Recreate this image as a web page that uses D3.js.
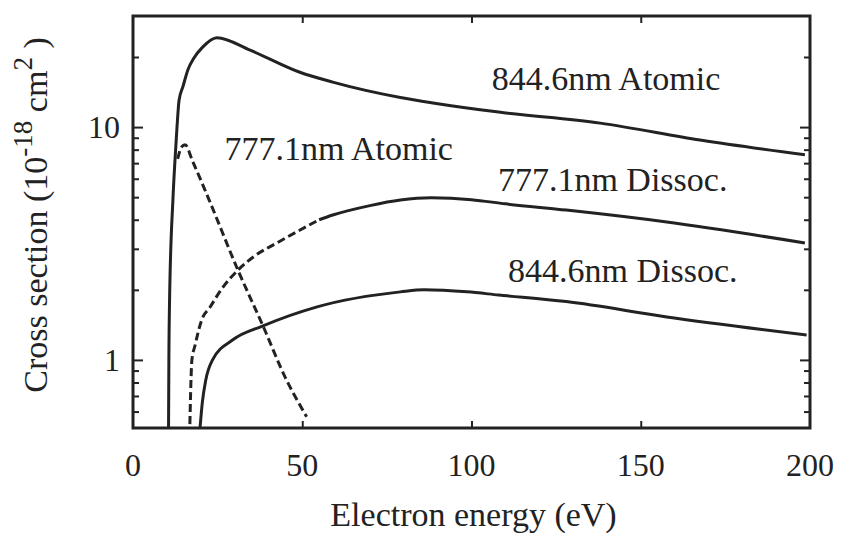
<!DOCTYPE html>
<html>
<head>
<meta charset="utf-8">
<script src="https://cdn.jsdelivr.net/npm/d3@7"></script>
<style>
  @font-face { font-family: "ChartSerif"; src: local("Liberation Serif"), local("LiberationSerif"), local("LiberationSerif-Regular"), local("Times New Roman"), local("Tinos"); }
  html, body { margin: 0; padding: 0; background: #fff; }
  svg { display: block; }
  svg text { font-family: "Liberation Serif", ChartSerif, Tinos, "Times New Roman", Times; }
</style>
</head>
<body>
<svg id="chart" width="858" height="533" font-family="Liberation Serif"></svg>
<script>
// ---- data ----
const xTicks = [0, 50, 100, 150, 200];
const yMajorTicks = [1, 10];
const yMinorTicks = [0.6, 0.7, 0.8, 0.9, 2, 3, 4, 5, 6, 7, 8, 9, 20];

// energy (eV), cross section (1e-18 cm^2)
const atomic844E = [10.5, 10.6, 10.8, 11.8, 12.4, 13.0, 13.6, 14.8, 16.2, 18.0, 20.5, 24.8, 34.6, 49.3, 59, 79, 88.6, 108, 138, 167.5, 198.5];
const atomic844V = [0.51, 1.0, 1.8, 4.9, 7.2, 10.0, 13.0, 15.0, 17.6, 19.8, 22.0, 24.2, 21.4, 17.2, 15.6, 13.4, 12.7, 11.6, 10.4, 8.8, 7.6];

const atomic777E = [13.2, 14.3, 15.4, 17.5, 22.5, 31, 38.4, 45, 51.3];
const atomic777V = [7.3, 8.2, 8.4, 7.2, 4.86, 2.43, 1.40, 0.84, 0.57];

const dissoc777E = [16.8, 17.4, 18.3, 20.4, 22.7, 26, 31, 36, 42.5, 55, 59, 70, 79, 88, 100, 110, 128, 157.7, 198.5];
const dissoc777V = [0.53, 1.0, 1.15, 1.5, 1.68, 2.0, 2.43, 2.8, 3.18, 4.0, 4.19, 4.6, 4.86, 4.97, 4.88, 4.68, 4.4, 3.91, 3.18];
const dashBreakE = 55;

const dissoc844E = [19.8, 20.5, 21.5, 23.5, 29.5, 38.4, 54.4, 79, 86, 98.7, 108, 128, 157.7, 199];
const dissoc844V = [0.51, 0.66, 0.82, 1.0, 1.22, 1.40, 1.69, 1.96, 2.0, 1.96, 1.9, 1.78, 1.53, 1.28];

const curveLabels = ["844.6nm Atomic", "777.1nm Atomic", "777.1nm Dissoc.", "844.6nm Dissoc."];
const labelE = [106, 27, 107.8, 110.8];
const labelV = [14.4, 7.22, 5.31, 2.16];

const xTitle = "Electron energy (eV)";

// ---- layout ----
const svg = d3.select("#chart");
const L = 133, R = 810, T = 16, B = 428;
const x = d3.scaleLinear().domain([0, 200]).range([L, R]);
const y = d3.scaleLog().domain([0.51, 30]).range([B, T]);

const zip = (a, b) => a.map((v, i) => [v, b[i]]);
const line = d3.line().x(d => x(d[0])).y(d => y(d[1])).curve(d3.curveMonotoneX);

const g = svg.append("g");
const ink = "#222";

// curves
const sw = 3;
g.append("path").datum(zip(atomic844E, atomic844V)).attr("d", line)
  .attr("fill", "none").attr("stroke", ink).attr("stroke-width", sw);
g.append("path").datum(zip(atomic777E, atomic777V)).attr("d", line)
  .attr("fill", "none").attr("stroke", ink).attr("stroke-width", sw).attr("stroke-dasharray", "8,4");
const d777 = zip(dissoc777E, dissoc777V);
g.append("path").datum(d777.filter(d => d[0] <= dashBreakE)).attr("d", line)
  .attr("fill", "none").attr("stroke", ink).attr("stroke-width", sw).attr("stroke-dasharray", "8,4");
g.append("path").datum(d777.filter(d => d[0] >= dashBreakE)).attr("d", line)
  .attr("fill", "none").attr("stroke", ink).attr("stroke-width", sw);
g.append("path").datum(zip(dissoc844E, dissoc844V)).attr("d", line)
  .attr("fill", "none").attr("stroke", ink).attr("stroke-width", sw);

// axes (ticks inward, mirrored)
const bottomAxis = d3.axisBottom(x).tickValues(xTicks.slice(1, -1)).tickSize(-7).tickFormat("");
const topAxis = d3.axisTop(x).tickValues(xTicks.slice(1, -1)).tickSize(-7).tickFormat("");
const leftMajor = d3.axisLeft(y).tickValues(yMajorTicks).tickSize(-10).tickFormat("");
const leftMinor = d3.axisLeft(y).tickValues(yMinorTicks).tickSize(-6).tickFormat("");
const rightMajor = d3.axisRight(y).tickValues(yMajorTicks).tickSize(-10).tickFormat("");
const rightMinor = d3.axisRight(y).tickValues(yMinorTicks).tickSize(-6).tickFormat("");

function styleAxis(sel) {
  sel.select(".domain").remove();
  sel.selectAll(".tick line").attr("stroke", ink).attr("stroke-width", 2);
  sel.attr("font-family", null);
}
g.append("g").attr("transform", `translate(0,${B})`).call(bottomAxis).call(styleAxis);
g.append("g").attr("transform", `translate(0,${T})`).call(topAxis).call(styleAxis);
g.append("g").attr("transform", `translate(${L},0)`).call(leftMajor).call(styleAxis);
g.append("g").attr("transform", `translate(${L},0)`).call(leftMinor).call(styleAxis);
g.append("g").attr("transform", `translate(${R},0)`).call(rightMajor).call(styleAxis);
g.append("g").attr("transform", `translate(${R},0)`).call(rightMinor).call(styleAxis);

// frame
g.append("rect").attr("x", L).attr("y", T).attr("width", R - L).attr("height", B - T)
  .attr("fill", "none").attr("stroke", ink).attr("stroke-width", 3);

// text layer
const tg = svg.append("g").attr("font-family", "Liberation Serif");

// tick labels
tg.selectAll(".xl").data(xTicks).enter().append("text")
  .attr("x", d => x(d)).attr("y", 476).attr("text-anchor", "middle")
  .attr("font-size", 32).attr("fill", ink).text(d => d);
tg.selectAll(".yl").data(yMajorTicks).enter().append("text")
  .attr("x", 120).attr("y", d => y(d) + 11).attr("text-anchor", "end")
  .attr("font-size", 32).attr("fill", ink).text(d => d);

// curve labels
tg.selectAll(".cl").data(curveLabels).enter().append("text")
  .attr("x", (d, i) => x(labelE[i])).attr("y", (d, i) => y(labelV[i]))
  .attr("font-size", 34).attr("fill", ink).text(d => d);

// axis titles
tg.append("text").attr("x", (L + R) / 2 + 2).attr("y", 526).attr("text-anchor", "middle")
  .attr("font-size", 34).attr("fill", ink).text(xTitle);

const yt = tg.append("text").attr("transform", "translate(47,215) rotate(-90)")
  .attr("text-anchor", "middle").attr("font-size", 34).attr("fill", ink);
yt.append("tspan").text("Cross section (10");
yt.append("tspan").attr("dy", -15).attr("font-size", 27).text("-18");
yt.append("tspan").attr("dy", 15).text(" cm");
yt.append("tspan").attr("dy", -15).attr("font-size", 27).text("2");
yt.append("tspan").attr("dy", 15).text(" )");
</script>
</body>
</html>
